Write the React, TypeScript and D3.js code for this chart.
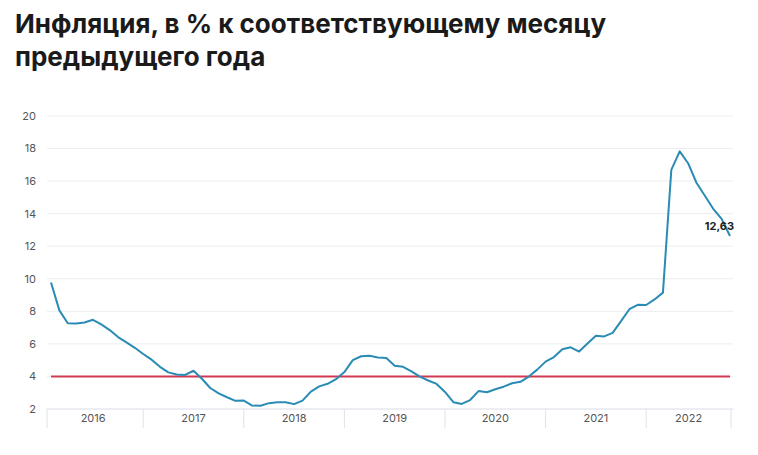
import React from "react";
import * as d3 from "d3";

const years = ["2016", "2017", "2018", "2019", "2020", "2021", "2022"];
const inflation = [
  9.77, 8.06, 7.27, 7.25, 7.31, 7.48, 7.2, 6.85, 6.42, 6.09, 5.76, 5.38,
  5.03, 4.59, 4.25, 4.12, 4.09, 4.35, 3.86, 3.29, 2.96, 2.72, 2.5, 2.52,
  2.21, 2.2, 2.36, 2.41, 2.42, 2.3, 2.51, 3.07, 3.39, 3.55, 3.83, 4.27,
  5.0, 5.24, 5.27, 5.17, 5.13, 4.66, 4.59, 4.31, 3.99, 3.75, 3.54, 3.05,
  2.42, 2.31, 2.55, 3.1, 3.03, 3.21, 3.37, 3.58, 3.67, 3.99, 4.42, 4.91,
  5.19, 5.67, 5.79, 5.53, 6.02, 6.5, 6.46, 6.68, 7.4, 8.13, 8.4, 8.39,
  8.73, 9.15, 16.69, 17.83, 17.1, 15.9, 15.1, 14.3, 13.68, 12.63,
];
const target = 4;
const yTicks = [2, 4, 6, 8, 10, 12, 14, 16, 18, 20];
const lastLabel = "12,63";

export default function App() {
  const W = 758;
  const H = 455;
  const x = d3.scaleLinear().domain([0, inflation.length - 1]).range([51, 730]);
  const y = d3.scaleLinear().domain([2, 20]).range([409, 116]);
  const line = d3
    .line<number>()
    .x((_, i) => x(i))
    .y((d) => y(d));
  const gridL = 47;
  const gridR = 733;
  const bounds: number[] = [gridL];
  for (let k = 1; k < years.length; k++) bounds.push(x(12 * k - 1));
  bounds.push(731);
  const last = inflation.length - 1;
  return (
    <svg
      width={W}
      height={H}
      style={{ position: "absolute", left: 0, top: 0, background: "#fff" }}
      fontFamily="Inter, Roboto, sans-serif"
    >
      <text x={15} y={33} fontSize={26} fontWeight={700} fill="#1a1a1a">
        Инфляция, в % к соответствующему месяцу
      </text>
      <text x={15} y={66} fontSize={26} fontWeight={700} fill="#1a1a1a">
        предыдущего года
      </text>
      {yTicks.map((t) => (
        <g key={t}>
          <line
            x1={gridL}
            x2={gridR}
            y1={y(t)}
            y2={y(t)}
            stroke={t === 2 ? "#d8dce6" : "#eaedf2"}
            strokeWidth={1}
          />
          <text
            x={36}
            y={y(t)}
            dy="0.35em"
            textAnchor="end"
            fontSize={11}
            fill="#555"
          >
            {t}
          </text>
        </g>
      ))}
      {bounds.map((b, i) => (
        <line
          key={i}
          x1={b}
          x2={b}
          y1={y(2)}
          y2={428}
          stroke="#dfe2ea"
          strokeWidth={1}
        />
      ))}
      {years.map((yr, i) => (
        <text
          key={yr}
          x={(bounds[i] + bounds[i + 1]) / 2 - (i === 0 ? 2 : 0)}
          y={418}
          dy="0.35em"
          textAnchor="middle"
          fontSize={11}
          fill="#555"
        >
          {yr}
        </text>
      ))}
      <line
        x1={x(0)}
        x2={x(last)}
        y1={y(target)}
        y2={y(target)}
        stroke="#cf3a50"
        strokeWidth={2}
      />
      <path
        d={line(inflation) || ""}
        fill="none"
        stroke="#2a8bb5"
        strokeWidth={2}
        strokeLinejoin="round"
      />
      <text
        x={734}
        y={226}
        dy="0.35em"
        textAnchor="end"
        fontSize={11}
        fontWeight={700}
        fill="#222"
      >
        {lastLabel}
      </text>
    </svg>
  );
}
